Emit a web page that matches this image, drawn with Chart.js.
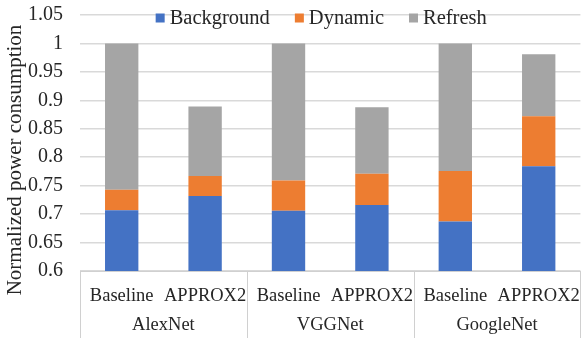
<!DOCTYPE html>
<html lang="en">
<head>
<meta charset="UTF-8">
<title>Normalized power consumption</title>
<style>
  html, body { margin: 0; padding: 0; background: #fff; }
  .main { width: 586px; height: 338px; }
</style>
</head>
<body>
<div class="main"><canvas id="myChart" width="586" height="338"></canvas></div>
<script src="https://cdn.jsdelivr.net/npm/chart.js"></script>
<script>
// data
const networks = ['AlexNet', 'VGGNet', 'GoogleNet'];
const configs = ['Baseline', 'APPROX2'];
const background = [0.707, 0.732, 0.706, 0.716, 0.687, 0.784];
const dynamic = [0.036, 0.035, 0.053, 0.055, 0.089, 0.088];
const refresh = [0.257, 0.122, 0.241, 0.117, 0.224, 0.109];
const yMin = 0.6, yMax = 1.05, yStep = 0.05;
const yTitle = 'Normalized power consumption';

const textColor = '#262626';
const fontFamily = '"Liberation Serif", "Times New Roman", serif';
Chart.defaults.font.family = fontFamily;
Chart.defaults.color = textColor;

const labels = networks.flatMap(() => configs);

// group row under the x axis, rotated y title and the legend
const extras = {
    id: 'extras',
    afterDraw(chart) {
        const ctx = chart.ctx;
        const x = chart.scales.x;
        const area = chart.chartArea;
        const step = x.getPixelForValue(1) - x.getPixelForValue(0);
        ctx.save();
        ctx.strokeStyle = '#d0d0d0';
        ctx.lineWidth = 1;
        for (let g = 0; g <= networks.length; g++) {
            const px = Math.round(x.getPixelForValue(g * 2) - step / 2) + 0.5;
            ctx.beginPath();
            ctx.moveTo(px, x.top);
            ctx.lineTo(px, chart.height);
            ctx.stroke();
        }
        ctx.font = '18.5px ' + fontFamily;
        ctx.fillStyle = textColor;
        ctx.textAlign = 'center';
        ctx.textBaseline = 'middle';
        networks.forEach((name, g) => {
            const mid = (x.getPixelForValue(g * 2) + x.getPixelForValue(g * 2 + 1)) / 2;
            ctx.fillText(name, mid, x.bottom - 13);
        });

        ctx.save();
        ctx.font = '21px ' + fontFamily;
        ctx.translate(15, 160);
        ctx.rotate(-Math.PI / 2);
        ctx.fillText(yTitle, 0, 0);
        ctx.restore();

        // legend
        ctx.font = '20.5px ' + fontFamily;
        const box = 9, gapText = 5, gapItem = 25;
        const items = chart.data.datasets.map(d => ({ label: d.label, color: d.backgroundColor, w: ctx.measureText(d.label).width }));
        const total = items.reduce((s, it) => s + box + gapText + it.w, 0) + gapItem * (items.length - 1);
        let cx = (area.left + area.right) / 2 - 9 - total / 2;
        const cy = 18;
        ctx.textAlign = 'left';
        items.forEach(it => {
            ctx.fillStyle = it.color;
            ctx.fillRect(cx, cy - box / 2, box, box);
            cx += box + gapText;
            ctx.fillStyle = textColor;
            ctx.fillText(it.label, cx, cy + 1);
            cx += it.w + gapItem;
        });
        ctx.restore();
    }
};

const ctx = document.getElementById('myChart');
new Chart(ctx, {
    type: 'bar',
    data: {
        labels: labels,
        datasets: [
            { label: 'Background', data: background, backgroundColor: '#4472C4' },
            { label: 'Dynamic', data: dynamic, backgroundColor: '#ED7D31' },
            { label: 'Refresh', data: refresh, backgroundColor: '#A5A5A5' }
        ]
    },
    options: {
        responsive: false,
        animation: false,
        layout: { padding: { top: 15, right: 2, left: 0, bottom: 0 } },
        datasets: { bar: { categoryPercentage: 1, barPercentage: 0.4 } },
        plugins: { legend: { display: false }, tooltip: { enabled: false } },
        scales: {
            x: {
                stacked: true,
                grid: { display: false },
                border: { display: true, color: '#d0d0d0' },
                ticks: { padding: 6, maxRotation: 0, autoSkip: false, font: { size: 18.5, lineHeight: 1.2 } },
                afterFit: s => { s.height = 67; }
            },
            y: {
                stacked: true,
                min: yMin,
                max: yMax,
                grid: { color: '#d9d9d9', lineWidth: 1.5, drawTicks: true, tickLength: 17, tickColor: 'rgba(0,0,0,0)' },
                border: { display: false },
                ticks: {
                    stepSize: yStep,
                    padding: 0,
                    autoSkip: false,
                    font: { size: 20, lineHeight: 1 },
                    callback: v => String(+v.toFixed(2))
                },
                afterFit: s => { s.width = 80; }
            }
        }
    },
    plugins: [extras]
});
</script>
</body>
</html>
